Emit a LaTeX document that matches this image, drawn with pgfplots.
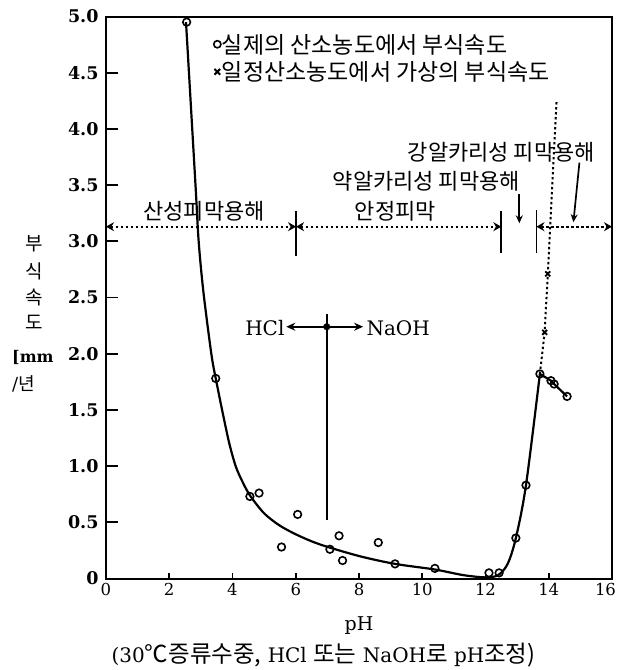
\documentclass[border=0pt]{standalone}
\usepackage{fontspec}
\setmainfont{DejaVu Serif}
\newfontfamily\kr{Noto Sans CJK KR}
\usepackage{pgfplots}
\pgfplotsset{compat=1.18}
\usetikzlibrary{arrows.meta}

\pgfplotstableread{
x y
2.55 4.95
3.47 1.78
4.55 0.73
4.84 0.76
5.55 0.28
6.06 0.57
7.08 0.26
7.37 0.38
7.48 0.16
8.61 0.32
9.14 0.13
10.40 0.09
12.11 0.05
12.43 0.05
12.96 0.36
13.28 0.83
13.72 1.82
14.07 1.76
14.17 1.73
14.58 1.62
}\measured

\begin{document}
\begin{tikzpicture}
\begin{axis}[
  scale only axis, width=506pt, height=562pt,
  xmin=0, xmax=16, ymin=0, ymax=5,
  clip=false,
  axis line style={line width=2pt},
  xtick={0,2,...,16},
  xticklabels={0,2,4,6,8,10,12,14,{\makebox[0pt][r]{16\hspace{-4pt}}}},
  ytick={0,0.5,...,5},
  yticklabels={0,0.5,1.0,1.5,2.0,2.5,3.0,3.5,4.0,4.5,5.0},
  tick pos=left, tick align=inside,
  major tick length=6pt,
  tick style={line width=1.7pt, black},
  ytick style={draw=none},
  /pgf/number format/assume math mode=true,
  xticklabel style={font=\fontsize{16.5}{18}\selectfont, yshift=-1pt},
  yticklabel style={font=\bfseries\fontsize{17.5}{19}\selectfont, xshift=-4pt},
  legend style={at={(axis cs:3.40,4.855)}, anchor=north west, draw=none, fill=none,
    font=\kr\fontsize{23}{25}\selectfont, inner sep=0pt, row sep=5pt,
    nodes={inner sep=1pt}},
  legend cell align=left,
  legend image code/.code={\draw[mark repeat=1,#1] plot coordinates {(2pt,0pt)};},
]
\coordinate (O) at (rel axis cs:0,0);
% inner y ticks
\pgfplotsinvokeforeach{0.5,1,1.5,2,2.5,3,3.5,4,4.5}{
  \draw[line width=1.7pt] (axis cs:0,#1) -- ++(12pt,0);
}
\addlegendimage{only marks, mark=o, mark size=3.6pt, mark options={line width=1.6pt}}
\addlegendentry{실제의 산소농도에서 부식속도}
\addlegendimage{only marks, mark=x, mark size=4pt, mark options={line width=2pt}}
\addlegendentry{일정산소농도에서 가상의 부식속도}

% fitted curve
\addplot[forget plot, line width=2.2pt, smooth, tension=0.5] coordinates {
(2.53,4.95) (2.83,3.5) (2.93,3.0) (3.08,2.55) (3.33,2.0) (3.47,1.78)
(3.7,1.46) (3.9,1.2) (4.1,1.0) (4.3,0.87) (4.55,0.74) (5.0,0.58)
(5.5,0.47) (6.1,0.38) (6.8,0.30)
(8.0,0.20) (9.14,0.13) (10.40,0.08) (11.3,0.03) (12.0,0.01) (12.4,0.03)
(12.7,0.13) (12.96,0.36) (13.28,0.83) (13.72,1.82)};
\addplot[forget plot, line width=2.2pt] coordinates {
(13.72,1.82) (14.07,1.76) (14.17,1.73) (14.58,1.62)};
% hypothetical (dotted) line
\addplot[forget plot, line width=2pt, dash pattern=on 2.4pt off 2.6pt,
  mark=x, mark size=3.5pt, mark indices={2,3},
  mark options={solid, line width=1.8pt}] coordinates {
(13.72,1.82) (13.87,2.19) (13.97,2.71) (14.25,4.26)};
% measured points
\addplot[forget plot, only marks, mark=o, mark size=3.8pt,
  mark options={line width=1.6pt, fill=white}] table {\measured};

% region markers
\draw[line width=1.9pt, dash pattern=on 2.4pt off 2.6pt,
  {Stealth[length=8pt,width=9pt]}-{Stealth[length=8pt,width=9pt]}]
  (axis cs:0,3.13) -- (axis cs:6.01,3.13);
\draw[line width=1.9pt, dash pattern=on 2.4pt off 2.6pt,
  {Stealth[length=8pt,width=9pt]}-{Stealth[length=8pt,width=9pt]}]
  (axis cs:6.01,3.13) -- (axis cs:12.5,3.13);
\draw[line width=1.9pt, dash pattern=on 2.4pt off 2.6pt,
  {Stealth[length=8pt,width=9pt]}-{Stealth[length=8pt,width=9pt]}]
  (axis cs:13.61,3.13) -- (axis cs:16,3.13);
\draw[line width=1.8pt] (axis cs:6.01,2.87) -- (axis cs:6.01,3.27);
\draw[line width=1.8pt] (axis cs:12.5,2.90) -- (axis cs:12.5,3.27);
\draw[line width=1.8pt] (axis cs:13.61,2.90) -- (axis cs:13.61,3.28);
\draw[line width=1.7pt, -{Stealth[length=8pt,width=7pt]}] (axis cs:13.07,3.42) -- (axis cs:13.07,3.16);
\draw[line width=1.7pt, -{Stealth[length=8pt,width=7pt]}] (axis cs:14.97,3.70) -- (axis cs:14.78,3.17);

\node[font=\kr\fontsize{22}{24}\selectfont] at (axis cs:3.1,3.27) {산성피막용해};
\node[font=\kr\fontsize{22}{24}\selectfont] at (axis cs:9.15,3.27) {안정피막};
\node[font=\kr\fontsize{22}{24}\selectfont] at (axis cs:10.13,3.53) {약알카리성 피막용해};
\node[font=\kr\fontsize{22}{24}\selectfont] at (axis cs:12.5,3.79) {강알카리성 피막용해};

% HCl / NaOH indicator
\draw[line width=1.8pt] (axis cs:6.98,2.35) -- (axis cs:6.98,0.52);
\draw[line width=1.7pt, {Stealth[length=9pt,width=8pt]}-{Stealth[length=9pt,width=8pt]}]
  (axis cs:5.70,2.24) -- (axis cs:8.13,2.24);
\addplot[forget plot, only marks, mark=*, mark size=3.3pt] coordinates {(6.98,2.24)};
\node[anchor=east, font=\fontsize{20}{22}\selectfont, inner sep=1pt] at (axis cs:5.68,2.23) {HCl};
\node[anchor=west, font=\fontsize{20}{22}\selectfont, inner sep=1pt] at (axis cs:8.2,2.23) {NaOH};

% y label (stacked)
\node[font=\kr\fontsize{19}{21}\selectfont] at ([shift={(-72pt,335pt)}]O) {부};
\node[font=\kr\fontsize{19}{21}\selectfont] at ([shift={(-72pt,307pt)}]O) {식};
\node[font=\kr\fontsize{19}{21}\selectfont] at ([shift={(-72pt,281pt)}]O) {속};
\node[font=\kr\fontsize{19}{21}\selectfont] at ([shift={(-72pt,256pt)}]O) {도};
\node[anchor=west, inner sep=0pt, font=\bfseries\fontsize{16}{18}\selectfont] at ([shift={(-94pt,221pt)}]O) {[mm};
\node[anchor=west, inner sep=0pt, font=\fontsize{18}{20}\selectfont] at ([shift={(-94pt,195pt)}]O) {/{\kr 년}};

% x label and caption
\node[font=\fontsize{19}{21}\selectfont] at ([shift={(0pt,-47pt)}]rel axis cs:0.5,0) {pH};
\node[font=\fontsize{20}{23}\selectfont] at ([shift={(0pt,-77pt)}]rel axis cs:0.43,0)
  {(30{\kr\fontsize{23.5}{25}\selectfont ℃증류수중,} HCl {\kr\fontsize{23.5}{25}\selectfont 또는} NaOH{\kr\fontsize{23.5}{25}\selectfont 로} pH{\kr\fontsize{23.5}{25}\selectfont 조정)}};
\end{axis}
\pgfresetboundingbox
\path ([shift={(-106pt,-91.5pt)}]O) rectangle ([shift={(513pt,578.5pt)}]O);
\end{tikzpicture}
\end{document}
